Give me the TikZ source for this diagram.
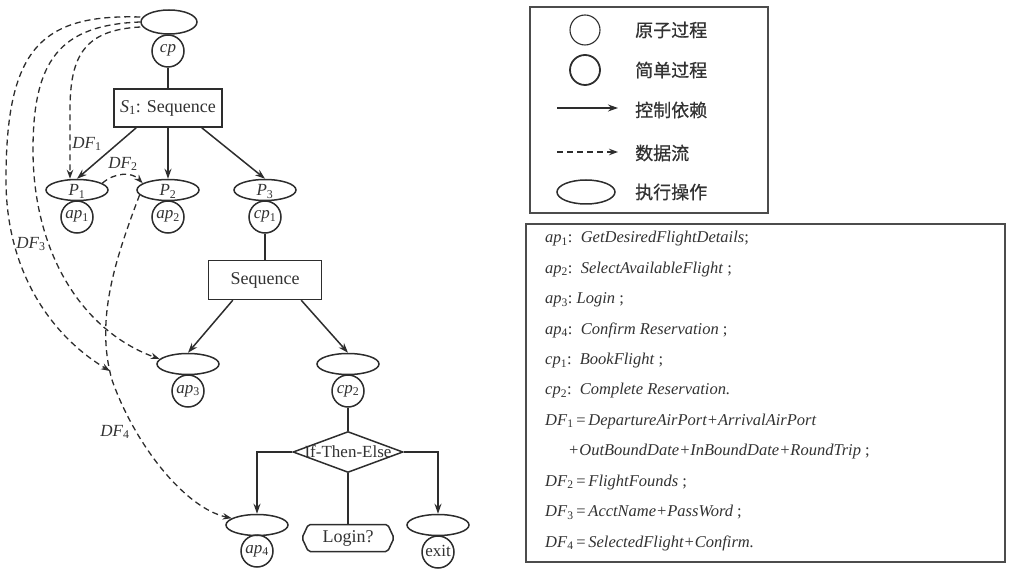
\documentclass[tikz,border=0pt]{standalone}
\usepackage{fontspec}
\setmainfont{Liberation Serif}
\newfontfamily\cjk{Noto Sans CJK SC}[FakeBold=0.7]
\usetikzlibrary{shapes.geometric,shapes.symbols,arrows.meta}
\definecolor{inkc}{RGB}{45,45,45}
\definecolor{txtc}{RGB}{50,50,50}
\newcommand\myfs[1]{\fontsize{#1}{#1}\selectfont}
\tikzset{
  ink/.style={draw=inkc, line width=1.5pt},
  ell/.style={ellipse, draw=inkc, line width=1.5pt, minimum width=62pt, minimum height=21pt, inner sep=0pt, text height=11pt, text depth=0pt, font=\myfs{17}, text=txtc},
  circ/.style={circle, draw=inkc, line width=1.5pt, minimum size=32pt, inner sep=0pt, text height=7pt, text depth=3pt, font=\myfs{17}, text=txtc},
  boxn/.style={rectangle, draw=inkc, line width=1.5pt, inner sep=0pt, font=\myfs{18}, text=txtc},
  arr/.style={draw=inkc, line width=1.5pt, -{Stealth[length=10pt,width=7pt]}},
  dfl/.style={draw=inkc, line width=1.3pt, dash pattern=on 6pt off 4pt, -{Stealth[length=9pt,width=6.5pt]}},
  lbl/.style={font=\myfs{17}\itshape, text=txtc, inner sep=0pt},
  leg/.style={font=\cjk\myfs{18}, text=txtc, anchor=west, inner sep=0pt},
  txl/.style={font=\myfs{16.5}, text=txtc, anchor=west, inner sep=0pt},
  frame/.style={draw=inkc!85, line width=1.8pt},
}
\begin{document}
\begin{tikzpicture}[x=1pt,y=-1pt]
\useasboundingbox (0,0) rectangle (1014,569);

% ---------- main tree ----------
\node[ell, minimum width=56pt, minimum height=24pt] (top) at (169,22) {};
\node[circ] (cp) at (168,51) {\textit{cp}};
\node[boxn, minimum width=108pt, minimum height=38pt] (S1) at (168,108) {\textit{S}\textsubscript{1}: Sequence};

\node[ell] (P1) at (77,190) {\textit{P}\textsubscript{1}};
\node[ell] (P2) at (168,190) {\textit{P}\textsubscript{2}};
\node[ell] (P3) at (265,190) {\textit{P}\textsubscript{3}};
\node[circ] (ap1) at (77,217) {\textit{ap}\textsubscript{1}};
\node[circ] (ap2) at (168,217) {\textit{ap}\textsubscript{2}};
\node[circ] (cp1) at (265,217) {\textit{cp}\textsubscript{1}};

\node[boxn, minimum width=113pt, minimum height=39pt] (Seq) at (265,280) {Sequence};

\node[ell] (ap3e) at (188,364) {};
\node[circ] (ap3) at (188,391) {\textit{ap}\textsubscript{3}};
\node[ell] (cp2e) at (348,364) {};
\node[circ] (cp2) at (348,391) {\textit{cp}\textsubscript{2}};

\node[diamond, draw=inkc, line width=1.5pt, minimum width=110pt, minimum height=41pt, inner sep=0pt] (dia) at (348,452) {};
\node[font=\myfs{17}, text=txtc, inner sep=0pt] (diat) at (348,452) {If-Then-Else};

\node[ell] (ap4e) at (257,525) {};
\node[circ] (ap4) at (257,551) {\textit{ap}\textsubscript{4}};
\node[signal, signal to=east and west, signal pointer angle=130, draw=inkc, line width=1.5pt, rounded corners=2pt, minimum width=92pt, minimum height=27pt, inner sep=0pt, font=\myfs{18}, text=txtc] (login) at (348,538) {Login?};
\node[ell] (exite) at (438,525) {};
\node[circ, text height=9pt, text depth=0pt] (exit) at (438,552) {exit};

% control edges
\draw[ink] (cp.south) -- (S1.north);
\draw[arr] ([xshift=23pt]S1.south west) -- (P1.north);
\draw[arr] (S1.south) -- (P2.north);
\draw[arr] ([xshift=-21pt]S1.south east) -- (P3.north);
\draw[ink] (cp1.south) -- (Seq.north);
\draw[arr] ([xshift=25pt]Seq.south west) -- (ap3e.north);
\draw[arr] ([xshift=-21pt]Seq.south east) -- (cp2e.north);
\draw[ink] (cp2.south) -- (dia.north);
\draw[arr] (dia.west) -| (ap4e.north);
\draw[arr] (dia.east) -| (exite.north);
\draw[ink] (dia.south) -- (login.north);

% data flows
\coordinate (j4) at (110,371);
\draw[dfl] ([yshift=5pt]top.west) .. controls (40,14) and (6,50) .. (6,180) .. controls (6,270) and (50,335) .. (j4);
\draw[dfl] (top.west) .. controls (60,25) and (33,60) .. (33,150) .. controls (33,250) and (80,330) .. (ap3e.170);
\draw[dfl] ([yshift=-5pt]top.west) .. controls (85,30) and (70,55) .. (70,110) -- ([xshift=-7pt]P1.north);
\draw[dfl] (P1.15) .. controls (115,172) and (132,172) .. (P2.165);
\draw[dfl] (P2.190) .. controls (115,260) and (95,320) .. (112,380) .. controls (135,445) and (185,508) .. (ap4e.165);

\node[lbl] (df1) at (87,144) {DF\textsubscript{\upshape 1}};
\node[lbl] (df2) at (123,164) {DF\textsubscript{\upshape 2}};
\node[lbl] (df3) at (31,244) {DF\textsubscript{\upshape 3}};
\node[lbl] (df4) at (115,432) {DF\textsubscript{\upshape 4}};

% ---------- legend ----------
\draw[frame] (530,7) rectangle (768,213);
\node[circle, draw=inkc, line width=1.1pt, minimum size=30pt, inner sep=0pt] (lg1) at (585,30) {};
\node[circle, draw=inkc, line width=1.8pt, minimum size=30pt, inner sep=0pt] (lg2) at (585,70) {};
\coordinate (lg3a) at (557,108); \coordinate (lg3b) at (618,108);
\draw[arr, line width=1.2pt] (lg3a) -- (lg3b);
\coordinate (lg4a) at (557,152); \coordinate (lg4b) at (618,152);
\draw[dfl, line width=1.2pt] (lg4a) -- (lg4b);
\node[ellipse, draw=inkc, line width=1.5pt, minimum width=58pt, minimum height=24pt, inner sep=0pt] (lg5) at (586,192) {};
\node[leg] (lt1) at (635,30) {原子过程};
\node[leg] (lt2) at (635,70) {简单过程};
\node[leg] (lt3) at (635,110) {控制依赖};
\node[leg] (lt4) at (635,153) {数据流};
\node[leg] (lt5) at (635,192) {执行操作};

% ---------- text box ----------
\draw[frame] (526,224) rectangle (1005,562);
\node[txl] (t1) at (545,239) {\textit{ap}\textsubscript{1}:\ \ \textit{GetDesiredFlightDetails};};
\node[txl] (t2) at (545,269.4) {\textit{ap}\textsubscript{2}:\ \ \textit{SelectAvailableFlight} ;};
\node[txl] (t3) at (545,299.8) {\textit{ap}\textsubscript{3}:\ \textit{Login} ;};
\node[txl] (t4) at (545,330.2) {\textit{ap}\textsubscript{4}:\ \ \textit{Confirm Reservation} ;};
\node[txl] (t5) at (545,360.6) {\textit{cp}\textsubscript{1}:\ \ \textit{BookFlight} ;};
\node[txl] (t6) at (545,391) {\textit{cp}\textsubscript{2}:\ \ \textit{Complete Reservation.}};
\node[txl] (t7) at (545,421.4) {\textit{DF}\textsubscript{1}\,=\,\textit{DepartureAirPort+ArrivalAirPort}};
\node[txl] (t8) at (568,451.8) {\textit{+OutBoundDate+InBoundDate+RoundTrip} ;};
\node[txl] (t9) at (545,482.2) {\textit{DF}\textsubscript{2}\,=\,\textit{FlightFounds} ;};
\node[txl] (t10) at (545,512.6) {\textit{DF}\textsubscript{3}\,=\,\textit{AcctName+PassWord} ;};
\node[txl] (t11) at (545,543) {\textit{DF}\textsubscript{4}\,=\,\textit{SelectedFlight+Confirm.}};
\end{tikzpicture}
\end{document}
